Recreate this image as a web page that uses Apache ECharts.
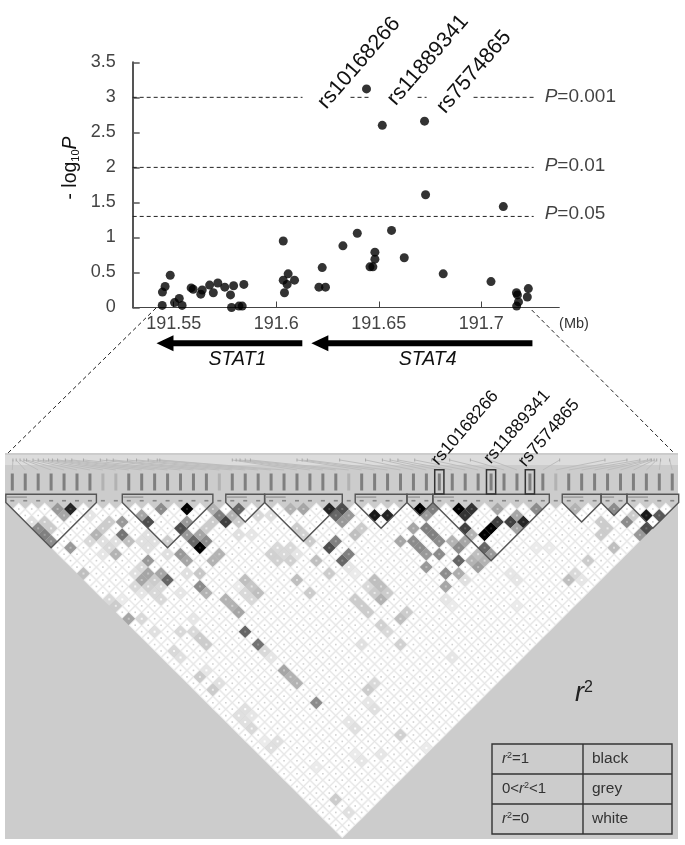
<!DOCTYPE html>
<html><head><meta charset="utf-8">
<script src="https://cdn.jsdelivr.net/npm/echarts@6/dist/echarts.min.js"></script>
<style>html,body{margin:0;padding:0;background:#fff}#c{width:685px;height:845px;filter:blur(0.5px)}</style>
</head><body><div id="c"></div>
<script>
// ---------- association scan ----------
const snpMb = [191.5444,191.5445,191.5458,191.5483,191.5504,191.5527,191.5541,191.5585,191.5595,191.5632,191.5639,191.5675,191.5693,191.5715,191.5749,191.5777,191.5792,191.5782,191.5818,191.5834,191.5842,
191.6034,191.6034,191.6058,191.6053,191.6089,191.6040,191.6224,191.6208,191.6240,191.6325,191.6395,191.6440,191.6517,191.6723,191.6728,191.7107,191.6562,191.6481,191.6481,191.6457,191.6471,191.6624,191.6814,191.7047,191.7171,191.7176,191.7181,191.7172,191.7224,191.7229];
const snpLogP = [0.03,0.22,0.30,0.46,0.07,0.13,0.03,0.28,0.26,0.19,0.25,0.32,0.21,0.35,0.29,0.18,0.31,0.0,0.02,0.02,0.33,
0.95,0.39,0.48,0.33,0.39,0.21,0.57,0.29,0.29,0.88,1.06,3.12,2.60,2.66,1.61,1.44,1.10,0.79,0.69,0.58,0.58,0.71,0.48,0.37,0.21,0.18,0.08,0.02,0.15,0.27];
const xTickMb = [191.55,191.6,191.65,191.7];
const thresholds = [
 {label:'=0.001', y:3, segs:[[191.53,191.6128],[191.6362,191.646],[191.6689,191.6733],[191.6962,191.7255]], dy:-1},
 {label:'=0.01',  y:2, segs:[[191.53,191.7255]], dy:-2},
 {label:'=0.05',  y:1.3, segs:[[191.53,191.7255]], dy:-3}
];
const genes = [{name:'STAT1', tip:191.5416, end:191.6127, mid:191.5811},{name:'STAT4', tip:191.6171, end:191.7249, mid:191.6738}];
const scanLabels = ['rs10168266','rs11889341','rs7574865'];
// ---------- LD plot: [i+j, j-i, r2] for markers i<j, all other pairs are r2=0 ----------
const markerCount = 52;
const ldCells = [
[9,1,.85],[7,1,.4],[8,2,.35],[4,4,.45],[5,5,.5],[6,6,.45],[6,4,.2],[5,3,.2],[3,3,.12],[9,7,.4],[13,5,.3],[14,4,.2],[15,3,.2],[17,3,.4],[17,5,.55],[18,6,.25],[16,8,.3],[15,7,.15],[12,6,.15],[11,11,.25],[12,2,.1],
[14,6,.12],[16,6,.12],[14,8,.1],[20,6,.12],[22,6,.12],[21,5,.12],[21,7,.12],[24,8,.12],[22,12,.2],[21,13,.18],[19,13,.15],[20,10,.15],[19,11,.12],[23,13,.15],[22,14,.15],[23,15,.15],[20,14,.1],[27,11,.12],[26,14,.1],[15,15,.15],[16,16,.2],[17,15,.08],
[20,2,.35],[21,3,.7],[23,1,.45],[27,1,1],[27,3,.4],[26,4,.7],[24,6,.2],[27,5,.4],[28,6,.6],[30,6,.45],[29,7,1],[29,5,.35],[31,3,.2],[30,4,.2],[32,2,.5],[33,3,.75],[31,1,.3],[26,8,.4],[27,9,.35],[21,9,.4],[20,12,.35],[21,11,.35],[23,11,.35],[24,12,.6],[29,11,.22],[29,13,.45],[30,14,.3],[31,9,.3],[32,8,.3],[36,20,.6],[33,15,.3],[34,16,.3],[35,17,.35],[36,12,.25],[37,13,.22],[38,14,.25],[36,14,.15],[37,15,.15],[35,13,.08],[18,18,.35],[20,18,.15],
[35,1,.6],[34,2,.3],[35,3,.2],[38,2,.15],[35,5,.12],[37,5,.1],
[43,1,.3],[45,1,.35],[49,1,.85],[51,1,.7],[50,2,.6],[51,3,.4],[49,7,.7],[50,6,.5],[51,9,.6],[47,9,.25],[44,12,.25],[46,14,.2],[49,11,.2],[46,6,.2],[44,4,.2],[45,5,.18],[40,2,.12],[41,7,.15],[42,8,.15],[43,7,.15],[40,8,.18],[41,9,.18],[43,9,.18],[44,8,.1],
[52,2,.4],[56,2,.9],[58,2,.85],[63,1,1],[65,1,.5],[64,2,.4],[69,1,1],[70,2,.8],[71,1,.8],[75,1,.35],[81,1,.45],[70,4,.75],[71,5,.3],[74,4,1],[73,5,1],[75,3,.75],[77,3,.75],[79,3,.85],[78,2,.35],[78,4,.35],[73,7,.6],[74,8,.4],
[64,4,.5],[65,5,.5],[66,6,.45],[62,4,.35],[60,6,.35],[62,6,.45],[63,7,.45],[64,8,.4],[66,8,.45],[69,7,.45],[70,6,.35],[68,6,.3],[69,9,.6],[64,10,.4],[67,11,.45],[69,11,.32],[67,13,.35],[70,12,.12],[72,10,.38],[71,9,.3],[73,9,.3],[72,8,.25],[67,15,.1],[68,16,.08],[52,10,.1],[53,11,.08],
[54,4,.2],[53,5,.25],[52,8,.5],[56,12,.25],[57,13,.25],[57,15,.3],[58,14,.2],[56,14,.2],[55,13,.15],[53,15,.2],[54,16,.2],[55,17,.2],[60,18,.25],[61,17,.2],[57,19,.18],[58,20,.15],
[87,1,.3],[93,1,.45],[98,2,.9],[100,2,.65],[98,4,.7],[97,5,.4],[95,3,.45],[96,2,.2],[91,3,.2],[91,5,.2],[92,4,.2],[93,7,.25],[89,9,.2],[86,12,.25],[87,11,.15],[88,12,.1],[77,11,.1],[78,12,.1],[78,16,.08],[81,7,.08],[83,7,.08],
[38,22,.55],[39,23,.15],[40,24,.1],[42,26,.35],[43,27,.3],[44,28,.3],[47,31,.45],[29,27,.2],[31,29,.2],[30,26,.1],[32,28,.12],[26,20,.15],[22,20,.12],[28,20,.15],[29,21,.2],[30,22,.2],[28,18,.1],[25,23,.15],[26,24,.12],[35,33,.12],[36,34,.12],[37,35,.15],[36,32,.12],[37,33,.1],[40,38,.12],[41,37,.12],[39,37,.08],[50,46,.2],[60,22,.18],[55,29,.2],[56,28,.15],[55,31,.1],[56,32,.12],[52,34,.1],[53,35,.12],[54,22,.12],[68,24,.1],[60,36,.18],[52,48,.12],[64,38,.08],[57,39,.1],[54,40,.1],[53,39,.08],[47,41,.08]
];
const barPos = [0.05,0.3,0.6,0.9,1.1,1.6,2,2.4,2.8,3.1,3.5,4.1,4.6,5.5,6.8,7.3,7.8,8.9,9.6,10.5,11.2,11.4,17,17.3,17.6,18,18.4,22,22.4,22.8,25.3,27.3,28.6,29.2,29.8,31.1,32.4,33.8,35.4,36.9,39.2,42.3,45.8,47.5,48.5,49.1,49.3,49.4,49.6,49.8,50.1,50.8];
const faintMarkers = [7,8,16,26,42];
const boxedMarkers = [33,37,40];
const blocks = [[0,6],[9,15],[17,19],[20,25],[27,30],[31,32],[33,41],[43,45],[46,47],[48,51]];
const tableRows = [['{i|r}{s|2}{t|=1}','black'],['{t|0<}{i|r}{s|2}{t|<1}','grey'],['{i|r}{s|2}{t|=0}','white']];

const FONT = '"Liberation Sans", Arial, sans-serif';
const chart = echarts.init(document.getElementById('c'), null, {renderer:'canvas'});

const ldX = {min:-0.564, max:51.445}, ldY = {min:-7.673, max:52.115};
const cellMap = {};
ldCells.forEach(c => cellMap[c[0]+'_'+c[1]] = c[2]);
const ldData = [];
for (let i=0;i<markerCount;i++) for (let j=i+1;j<markerCount;j++){
  const v = cellMap[(i+j)+'_'+(j-i)] || 0;
  ldData.push([(i+j)/2, j-i, v]);
}
const shadeOf = v => { const g = Math.round(255*(1-v)); return `rgb(${g},${g},${g})`; };
const diamond = (c,hw,hh) => [[c[0],c[1]-hh],[c[0]+hw,c[1]],[c[0],c[1]+hh],[c[0]-hw,c[1]]];

const series = [];
series.push({type:'scatter',xAxisIndex:0,yAxisIndex:0,z:5,symbolSize:9,itemStyle:{color:'#000'},data:snpMb.map((x,k)=>[x,snpLogP[k]]),clip:false});
thresholds.forEach(t=>{
  t.segs.forEach(s=>series.push({type:'line',xAxisIndex:0,yAxisIndex:0,symbol:'none',z:2,lineStyle:{color:'#222',width:1,type:[4,3]},data:[[s[0],t.y],[s[1],t.y]]}));
});
series.push({type:'scatter',xAxisIndex:0,yAxisIndex:0,symbolSize:0,z:3,
  data:thresholds.map(t=>({value:[191.7255,t.y],label:{show:true,position:'right',distance:11,offset:[0,t.dy],
    formatter:'{i|P}{t|'+t.label+'}',rich:{i:{fontFamily:FONT,fontSize:19,fontStyle:'italic',color:'#111'},t:{fontFamily:FONT,fontSize:19,color:'#111'}}}}))});
series.push({type:'custom',xAxisIndex:0,yAxisIndex:0,clip:false,z:4,
  data:genes.map(g=>[g.tip,g.end,g.mid]),
  renderItem(p,api){
    const y = -0.511, yT = -0.74;
    const a = api.coord([api.value(0),y]), b = api.coord([api.value(1),y]), m = api.coord([api.value(2),yT]);
    return {type:'group',children:[
      {type:'polygon',shape:{points:[[a[0],a[1]],[a[0]+17,a[1]-8],[a[0]+17,a[1]-3],[b[0],b[1]-3],[b[0],b[1]+3],[a[0]+17,a[1]+3],[a[0]+17,a[1]+8]]},style:{fill:'#000'}},
      {type:'text',x:m[0],y:m[1],style:{text:genes[p.dataIndex].name,font:'italic 19.5px '+FONT,fill:'#111',align:'center',verticalAlign:'middle'}}
    ]};
  }});
series.push({type:'custom',xAxisIndex:1,yAxisIndex:1,z:2,clip:false,data:ldData,
  renderItem(p,api){
    const c = api.coord([api.value(0),api.value(1)]), sz = api.size([1,1]), hw = sz[0]/2, hh = sz[1];
    const v = api.value(2);
    const pts = diamond(c,hw,hh);
    if (v>0) return {type:'group',children:[
      {type:'polygon',shape:{points:pts},style:{fill:shadeOf(v)}},
      {type:'rect',shape:{x:c[0]-1,y:c[1]-1,width:2,height:2},style:{fill:shadeOf(Math.max(0,v-0.12))}}
    ]};
    return {type:'group',children:[
      {type:'polygon',shape:{points:pts},style:{fill:'#f0f0f0'}},
      {type:'polygon',shape:{points:diamond(c,hw-1.4,hh-1.4)},style:{fill:'#fff'}},
      {type:'rect',shape:{x:c[0]-0.8,y:c[1]-0.8,width:1.6,height:1.6},style:{fill:'#d0d0d0'}}
    ]};
  }});
series.push({type:'custom',xAxisIndex:1,yAxisIndex:1,z:1,clip:false,data:barPos.map((b,i)=>[b,i]),
  renderItem(p,api){
    const a = api.coord([api.value(0),-6.59]), b = api.coord([api.value(1),-5.04]);
    return {type:'group',children:[
      {type:'line',shape:{x1:a[0],y1:a[1],x2:b[0],y2:b[1]},style:{stroke:'#bdbdbd',lineWidth:1}},
      {type:'line',shape:{x1:a[0],y1:a[1]-1.5,x2:a[0],y2:a[1]+1.5},style:{stroke:'#a8a8a8',lineWidth:1}}
    ]};
  }});
series.push({type:'line',xAxisIndex:1,yAxisIndex:1,symbol:'none',z:0,lineStyle:{color:'#f6f6f6',width:3},data:[[0,-6.59],[51,-6.59]]});
series.push({type:'line',xAxisIndex:1,yAxisIndex:1,symbol:'none',z:0,lineStyle:{color:'#dcdcdc',width:10},data:[[-0.564,-6.59],[51.445,-6.59]]});
const markers = Array.from({length:markerCount},(_,i)=>i);
series.push({type:'scatter',xAxisIndex:1,yAxisIndex:1,z:3,symbol:'rect',symbolSize:[3,17],silent:true,clip:false,
  data:markers.map(i=>({value:[i,-3.18],itemStyle:{color:faintMarkers.includes(i)?'#ababab':'#6c6c6c'}}))});
series.push({type:'scatter',xAxisIndex:1,yAxisIndex:1,z:3,symbol:'rect',symbolSize:[4,1.6],silent:true,clip:false,itemStyle:{color:'#777'},
  data:markers.map(i=>[i,-0.28])});
series.push({type:'custom',xAxisIndex:1,yAxisIndex:1,z:4,clip:false,data:blocks,
  renderItem(p,api){
    const a = api.value(0), b = api.value(1), top=-1.28;
    const pts = [[a-.5,top],[b+.5,top],[b+.5,0],[(a+b)/2,b-a+1],[a-.5,0]].map(q=>api.coord(q));
    const l = api.coord([a-.42,-0.95]);
    return {type:'group',children:[
      {type:'polygon',shape:{points:pts},style:{fill:'none',stroke:'#555',lineWidth:1.4}},
      {type:'rect',shape:{x:l[0],y:l[1],width:Math.min(20,(b-a)*12),height:1.4},style:{fill:'#999'}}
    ]};
  }});
series.push({type:'custom',xAxisIndex:1,yAxisIndex:1,z:5,clip:false,data:boxedMarkers.map(i=>[i]),
  renderItem(p,api){
    const a = api.coord([api.value(0),-5.09]), b = api.coord([api.value(0),-1.32]);
    return {type:'rect',shape:{x:a[0]-4.6,y:a[1],width:9.2,height:b[1]-a[1]},style:{fill:'none',stroke:'#333',lineWidth:1.5}};
  }});

const g = [];
const rsText = (t,x,y,size,rotDeg)=>({type:'text',x,y,rotation:rotDeg*Math.PI/180,style:{text:t,font:size+'px '+FONT,fill:'#111',align:'center',verticalAlign:'middle'},z:20});
[[359,63],[428,60],[474,72]].forEach((p,k)=>g.push(rsText(scanLabels[k],p[0],p[1],21.5,49)));
[[465,428],[517,427],[549,433]].forEach((p,k)=>g.push(rsText(scanLabels[k],p[0],p[1],17.5,49)));
g.push({type:'text',x:71,y:168,rotation:Math.PI/2,z:20,style:{text:'{t|- log}{s|10}{i|P}',align:'center',verticalAlign:'middle',
  rich:{t:{font:'19.5px '+FONT,fill:'#111'},s:{font:'11px '+FONT,fill:'#111',verticalAlign:'bottom'},i:{font:'italic 19.5px '+FONT,fill:'#111'}}}});
g.push({type:'text',x:574,y:324,z:20,style:{text:'(Mb)',font:'14.5px '+FONT,fill:'#333',align:'center',verticalAlign:'middle'}});
const dash = (x1,y1,x2,y2)=>({type:'line',z:20,shape:{x1,y1,x2,y2},style:{stroke:'#222',lineWidth:1,lineDash:[4,3]}});
g.push(dash(156,308,8,453)); g.push(dash(531.7,310,673,452));
g.push({type:'text',x:584,y:693,z:20,style:{text:'{i|r}{s|2}',align:'center',verticalAlign:'middle',
  rich:{i:{font:'italic 27px '+FONT,fill:'#222'},s:{font:'16px '+FONT,fill:'#222',verticalAlign:'top'}}}});
const stroke={stroke:'#333',lineWidth:1.4};
g.push({type:'rect',z:20,shape:{x:492,y:744,width:180,height:90},style:{fill:'none',...stroke}});
[774,804].forEach(y=>g.push({type:'line',z:20,shape:{x1:492,y1:y,x2:672,y2:y},style:stroke}));
g.push({type:'line',z:20,shape:{x1:583,y1:744,x2:583,y2:834},style:stroke});
tableRows.forEach((r,k)=>{
  const y = 759+30*k;
  g.push({type:'text',x:502,y,z:20,style:{text:r[0],align:'left',verticalAlign:'middle',
    rich:{i:{font:'italic 15px '+FONT,fill:'#333'},s:{font:'9px '+FONT,fill:'#333',verticalAlign:'top'},t:{font:'15px '+FONT,fill:'#333'}}}});
  g.push({type:'text',x:592,y,z:20,style:{text:r[1],font:'15.5px '+FONT,fill:'#333',align:'left',verticalAlign:'middle'}});
});

chart.setOption({
  animation:false,backgroundColor:'#fff',
  grid:[
    {left:132.7,top:62.3,width:426.6,height:245.2,containLabel:false},
    {left:5,top:453,width:673,height:386,show:true,backgroundColor:'#cccccc',borderWidth:0}
  ],
  xAxis:[
    {type:'value',gridIndex:0,min:191.53,max:191.738,splitLine:{show:false},
     axisLine:{onZero:false,lineStyle:{color:'#444',width:1}},
     axisTick:{inside:true,length:6,lineStyle:{color:'#444'},customValues:xTickMb},
     axisLabel:{customValues:xTickMb,formatter:v=>String(v),fontFamily:FONT,fontSize:18,color:'#444',margin:8,showMinLabel:true,showMaxLabel:true}},
    {type:'value',gridIndex:1,min:ldX.min,max:ldX.max,show:false,splitLine:{show:false}}
  ],
  yAxis:[
    {type:'value',gridIndex:0,min:0,max:3.5,interval:0.5,splitLine:{show:false},
     axisLine:{show:true,onZero:false,lineStyle:{color:'#555',width:2}},
     axisTick:{show:true,inside:true,length:7,lineStyle:{color:'#555',width:1.5}},
     axisLabel:{fontFamily:FONT,fontSize:18,color:'#444',margin:17,padding:[12,0,0,0],formatter:v=>String(v)}},
    {type:'value',gridIndex:1,min:ldY.min,max:ldY.max,inverse:true,show:false,splitLine:{show:false}}
  ],
  series, graphic:g
});
</script></body></html>
